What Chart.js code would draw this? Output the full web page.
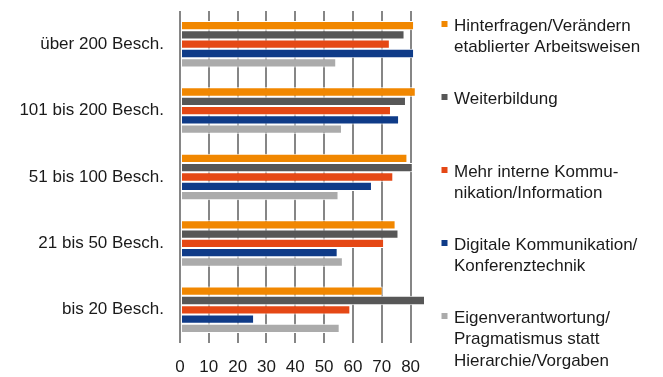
<!DOCTYPE html>
<html lang="de">
<head>
<meta charset="utf-8">
<title>Maßnahmen nach Betriebsgröße</title>
<script src="https://cdn.jsdelivr.net/npm/chart.js@4/dist/chart.umd.min.js"></script>
<style>
    html, body { margin: 0; padding: 0; background: #fff; }
    #wrap { width: 663px; height: 377px; position: relative; }
</style>
</head>
<body>
<div id="wrap"><canvas id="groesseChart"></canvas></div>
<script>
// Betriebsgrößen (von oben nach unten)
const categories = ['über 200 Besch.', '101 bis 200 Besch.', '51 bis 100 Besch.', '21 bis 50 Besch.', 'bis 20 Besch.'];

// Legendentexte, zeilenweise umbrochen
const seriesNames = [
    ['Hinterfragen/Verändern', 'etablierter Arbeitsweisen'],
    ['Weiterbildung'],
    ['Mehr interne Kommu-', 'nikation/Information'],
    ['Digitale Kommunikation/', 'Konferenztechnik'],
    ['Eigenverantwortung/', 'Pragmatismus statt', 'Hierarchie/Vorgaben']
];

const hinterfragen = [81.2, 81.8, 78.9, 74.8, 70.3];
const weiterbildung = [77.9, 78.4, 80.7, 75.8, 85.0];
const kommunikation = [72.8, 73.2, 74.0, 70.8, 59.1];
const digital = [81.2, 76.0, 66.6, 54.7, 25.7];
const eigenverantwortung = [54.2, 56.2, 55.0, 56.5, 55.4];

const xTicks = [0, 10, 20, 30, 40, 50, 60, 70, 80];

const seriesColors = ['#F18700', '#575757', '#E54815', '#0F3B88', '#ABABAB'];
const seriesValues = [hinterfragen, weiterbildung, kommunikation, digital, eigenverantwortung];

const FONT = '"Liberation Sans", Arial, sans-serif';

// Legende rechts neben dem Diagramm, mehrzeilig
const sideLegend = {
    id: 'sideLegend',
    afterDraw(chart) {
        const ctx = chart.ctx;
        ctx.save();
        ctx.font = '17px ' + FONT;
        ctx.textBaseline = 'middle';
        ctx.textAlign = 'left';
        chart.data.datasets.forEach((ds, i) => {
            const top = 26.5 + i * 73;
            ctx.fillStyle = ds.backgroundColor;
            ctx.fillRect(441.5, top - 5.5, 6, 6);
            ctx.fillStyle = '#1a1a1a';
            ds.legendLines.forEach((line, j) => {
                ctx.fillText(line, 454, top + j * 21.3);
            });
        });
        ctx.restore();
    }
};

new Chart(document.getElementById('groesseChart').getContext('2d'), {
    type: 'bar',
    data: {
        labels: categories,
        datasets: seriesValues.map((vals, i) => ({
            label: seriesNames[i].join(' '),
            legendLines: seriesNames[i],
            data: vals,
            backgroundColor: seriesColors[i],
            borderColor: '#ffffff',
            borderWidth: 1,
            borderSkipped: false,
            barPercentage: 1.0,
            categoryPercentage: 0.7
        }))
    },
    options: {
        indexAxis: 'y',
        responsive: true,
        maintainAspectRatio: false,
        animation: false,
        layout: {
            padding: { top: 11, right: 238, bottom: 3, left: 0 }
        },
        scales: {
            x: {
                min: 0,
                max: 85,
                border: { display: false },
                grid: {
                    color: '#868686',
                    lineWidth: 2,
                    drawTicks: false
                },
                afterBuildTicks(scale) {
                    scale.ticks = xTicks.map(v => ({ value: v }));
                },
                afterFit(scale) {
                    scale.height = 31;
                    scale.paddingLeft = 0;
                    scale.paddingRight = 0;
                },
                ticks: {
                    padding: 14,
                    color: '#1a1a1a',
                    font: { family: FONT, size: 17 }
                }
            },
            y: {
                border: { display: false },
                grid: { display: false },
                afterFit(scale) {
                    scale.width = 180;
                    scale.paddingTop = 0;
                    scale.paddingBottom = 0;
                },
                ticks: {
                    padding: 8,
                    color: '#1a1a1a',
                    font: { family: FONT, size: 17 }
                }
            }
        },
        plugins: {
            legend: { display: false },
            tooltip: { enabled: false }
        }
    },
    plugins: [sideLegend]
});
</script>
</body>
</html>
